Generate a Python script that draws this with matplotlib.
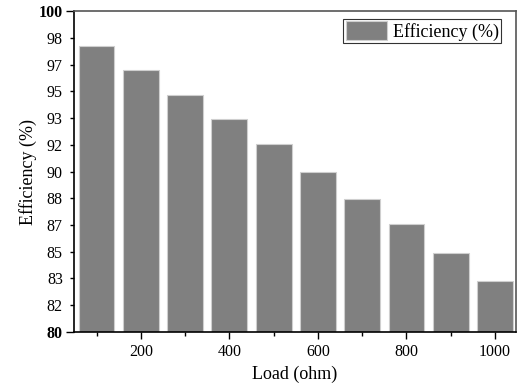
import matplotlib
matplotlib.use('Agg')
from matplotlib import pyplot as plt
from matplotlib.ticker import FixedLocator, FixedFormatter

# data
load = [100, 200, 300, 400, 500, 600, 700, 800, 900, 1000]
efficiency = [97.8, 96.3, 94.8, 93.3, 91.7, 90.0, 88.3, 86.7, 84.9, 83.2]

y_major = [80, 100]
y_minor = [80 + k * 20 / 12 for k in range(1, 12)]
x_major = [200, 400, 600, 800, 1000]
x_minor = [100, 300, 500, 700, 900]

plt.rcParams['font.family'] = ['Liberation Serif', 'DejaVu Serif']

fig = plt.figure(figsize=(5.21, 3.85), dpi=100)
ax = fig.add_axes([0.142, 0.138, 0.848, 0.833])

ax.bar(load, efficiency, width=81, color='#808080',
       edgecolor='#cfcfcf', linewidth=0.8, label='Efficiency (%)')

ax.set_xlim(49, 1047)
ax.set_ylim(80, 100)

# Origin style: end labels bold, inner ones plain
ax.yaxis.set_major_locator(FixedLocator(y_major))
ax.yaxis.set_major_formatter(FixedFormatter(['%.0f' % v for v in y_major]))
ax.yaxis.set_minor_locator(FixedLocator(y_minor))
ax.yaxis.set_minor_formatter(FixedFormatter(['%.0f' % v for v in y_minor]))
for lbl in ax.get_yticklabels():
    lbl.set_fontweight('bold')

ax.xaxis.set_major_locator(FixedLocator(x_major))
ax.xaxis.set_minor_locator(FixedLocator(x_minor))

ax.tick_params(axis='y', which='major', direction='out', length=6, width=1,
               labelsize=11.5, pad=2)
ax.tick_params(axis='y', which='minor', direction='out', length=3, width=1,
               labelsize=11.5, pad=5)
ax.tick_params(axis='x', which='major', direction='out', length=5, width=1,
               labelsize=11.5, pad=4)
ax.tick_params(axis='x', which='minor', direction='out', length=3, width=1)

for side in ['left', 'bottom']:
    ax.spines[side].set_linewidth(1.2)
    ax.spines[side].set_color('black')
for side in ['top', 'right']:
    ax.spines[side].set_linewidth(1.2)
    ax.spines[side].set_color('#555555')

ax.set_xlabel('Load (ohm)', fontsize=13, labelpad=4)
ax.set_ylabel('Efficiency (%)', fontsize=13, labelpad=1)

leg = ax.legend(loc='upper right', bbox_to_anchor=(0.966, 0.975),
                fontsize=13, frameon=True, fancybox=False,
                handlelength=2.3, handleheight=1.2, borderpad=0.12,
                handletextpad=0.3, borderaxespad=0)
leg.get_frame().set_edgecolor('black')
leg.get_frame().set_linewidth(0.8)

fig.savefig('out.png', dpi=100)
